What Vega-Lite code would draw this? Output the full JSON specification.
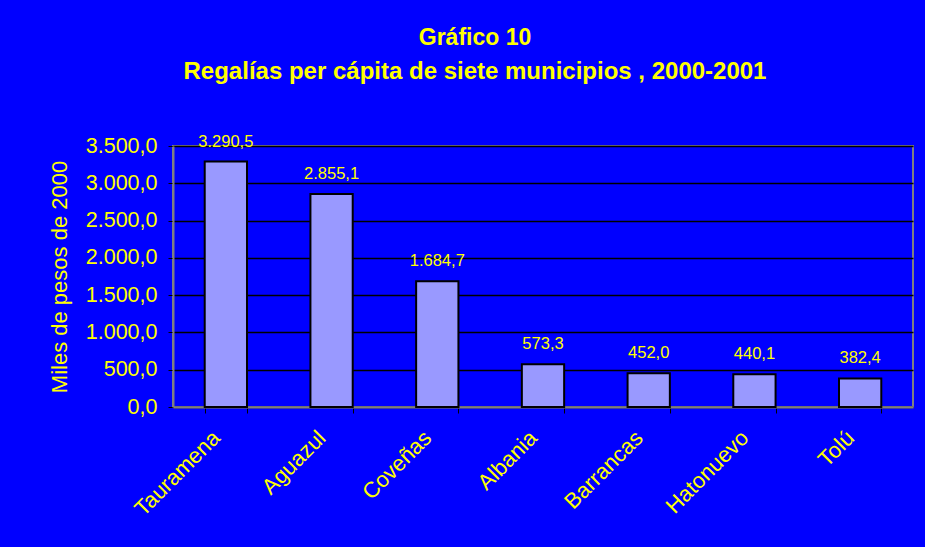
{
  "$schema": "https://vega.github.io/schema/vega-lite/v6.json",
  "width": 740,
  "height": 261,
  "autosize": {"type": "none"},
  "padding": {"left": 173, "top": 146, "right": 12, "bottom": 140},
  "background": "#0000FF",
  "title": {
    "text": "Gráfico 10",
    "subtitle": "Regalías per cápita de siete municipios , 2000-2001",
    "anchor": "middle",
    "dx": -68,
    "offset": 50,
    "font": "Liberation Sans",
    "fontSize": 23,
    "fontWeight": "bold",
    "color": "#FFFF00",
    "subtitleFont": "Liberation Sans",
    "subtitleFontSize": 24,
    "subtitleFontWeight": "bold",
    "subtitleColor": "#FFFF00",
    "subtitlePadding": 10
  },
  "config": {
    "locale": {"number": {"decimal": ",", "thousands": ".", "grouping": [3], "currency": ["$", ""]}},
    "view": {"stroke": "#808080", "strokeWidth": 2, "fill": "#0000FF"},
    "font": "Liberation Sans"
  },
  "data": {
    "values": [
      {"municipio": "Tauramena", "valor": 3290.5},
      {"municipio": "Aguazul", "valor": 2855.1},
      {"municipio": "Coveñas", "valor": 1684.7},
      {"municipio": "Albania", "valor": 573.3},
      {"municipio": "Barrancas", "valor": 452.0},
      {"municipio": "Hatonuevo", "valor": 440.1},
      {"municipio": "Tolú", "valor": 382.4}
    ]
  },
  "encoding": {
    "x": {
      "field": "municipio",
      "type": "nominal",
      "sort": null,
      "scale": {"paddingInner": 0.6, "paddingOuter": 0.3},
      "axis": {
        "title": null,
        "labelAngle": -45,
        "labelAlign": "right",
        "labelBaseline": "middle",
        "labelFont": "Liberation Sans",
        "labelFontSize": 22,
        "labelColor": "#FFFF00",
        "labelPadding": 21,
        "labelOffset": -10,
        "domainColor": "#808080",
        "domainWidth": 2,
        "tickColor": "#000000",
        "tickSize": 6,
        "tickBand": "extent",
        "grid": false
      }
    },
    "y": {
      "field": "valor",
      "type": "quantitative",
      "scale": {"domain": [0, 3500], "nice": false},
      "axis": {
        "title": "Miles de pesos de 2000",
        "titleFont": "Liberation Sans",
        "titleFontSize": 22,
        "titleFontWeight": "normal",
        "titleColor": "#FFFF00",
        "titlePadding": 14,
        "values": [0, 500, 1000, 1500, 2000, 2500, 3000, 3500],
        "format": ",.1f",
        "labelFont": "Liberation Sans",
        "labelFontSize": 21.5,
        "labelColor": "#FFFF00",
        "labelPadding": 11,
        "domainColor": "#808080",
        "domainWidth": 2,
        "tickColor": "#000000",
        "tickSize": 5,
        "grid": true,
        "gridColor": "#000000",
        "gridWidth": 1.5
      }
    }
  },
  "layer": [
    {
      "mark": {"type": "bar", "fill": "#9999FF", "stroke": "#000000", "strokeWidth": 2}
    },
    {
      "mark": {"type": "text", "baseline": "bottom", "dy": -12, "font": "Liberation Sans", "fontSize": 16.5, "color": "#FFFF00"},
      "encoding": {
        "text": {"field": "valor", "type": "quantitative", "format": ",.1f"}
      }
    }
  ]
}
